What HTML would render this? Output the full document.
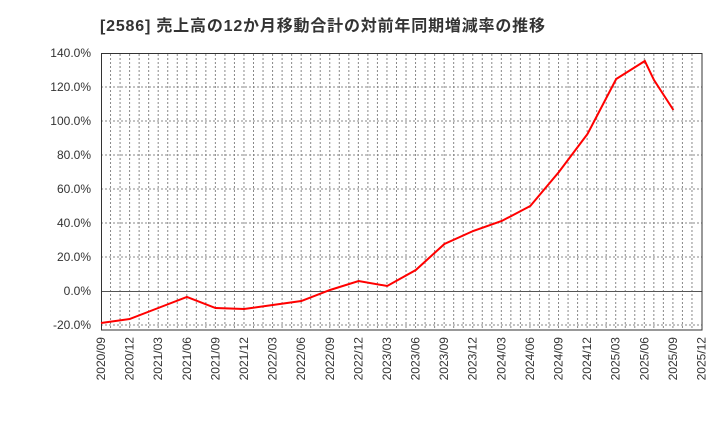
<!DOCTYPE html>
<html><head><meta charset="utf-8"><style>body{margin:0;background:#fff}svg{display:block}</style></head><body>
<svg width="720" height="440" xmlns="http://www.w3.org/2000/svg" font-family="Liberation Sans, Noto Sans CJK JP, sans-serif">
<rect width="720" height="440" fill="#fff"/>
<text x="100" y="31" font-size="16" font-weight="bold" fill="#333" textLength="445" lengthAdjust="spacing" font-family="Liberation Sans, Noto Sans CJK JP, sans-serif">[2586]  売上高の12か月移動合計の対前年同期増減率の推移</text>
<g id="vg" stroke="#888" stroke-width="1" stroke-dasharray="2,2"></g>
<g stroke="#888" stroke-dasharray="2,2">
<line x1="101" x2="702" y1="87" y2="87"/><line x1="101" x2="702" y1="121" y2="121"/><line x1="101" x2="702" y1="155" y2="155"/><line x1="101" x2="702" y1="189" y2="189"/><line x1="101" x2="702" y1="223" y2="223"/><line x1="101" x2="702" y1="257" y2="257"/><line x1="101" x2="702" y1="325" y2="325"/>
</g>
<line x1="101" x2="702" y1="291.5" y2="291.5" stroke="#555"/>
<rect x="101.5" y="53.5" width="600.5" height="276.5" fill="none" stroke="#333"/>
<g font-size="12" fill="#333" text-anchor="end">
<text x="91" y="57">140.0%</text><text x="91" y="91">120.0%</text><text x="91" y="125">100.0%</text><text x="91" y="159">80.0%</text><text x="91" y="193">60.0%</text><text x="91" y="227">40.0%</text><text x="91" y="261">20.0%</text><text x="91" y="295">0.0%</text><text x="91" y="329">-20.0%</text>
</g>
<g id="xl" font-size="12" fill="#333"></g>
<polyline fill="none" stroke="#f00" stroke-width="2" points="101,323 129.6,319 158.2,308 186.9,297 215.5,308 244.1,309 272.7,305 301.3,301 330,290 358.6,281 387.2,286 415.8,270 444.4,244 473.1,231 501.7,221 530.3,206 558.9,172 587.5,134 616.2,79 644.8,61 654,80 673.4,110"/>
<script>
var g=document.getElementById('vg'),l=document.getElementById('xl'),ns='http://www.w3.org/2000/svg';
for(var m=1;m<63;m++){var x=101+m*600.5/63;var e=document.createElementNS(ns,'line');e.setAttribute('x1',x);e.setAttribute('x2',x);e.setAttribute('y1',54);e.setAttribute('y2',330);g.appendChild(e);}
var labs=[];for(var y=2020;y<=2025;y++)for(var q of ['03','06','09','12']){if(y==2020&&(q=='03'||q=='06'))continue;labs.push(y+'/'+q);}
labs.forEach(function(s,i){var x=101+i*600.5/21+4;var t=document.createElementNS(ns,'text');t.setAttribute('transform','translate('+x+',337) rotate(-90)');t.setAttribute('text-anchor','end');t.textContent=s;l.appendChild(t);});
</script>
</svg>
</body></html>
